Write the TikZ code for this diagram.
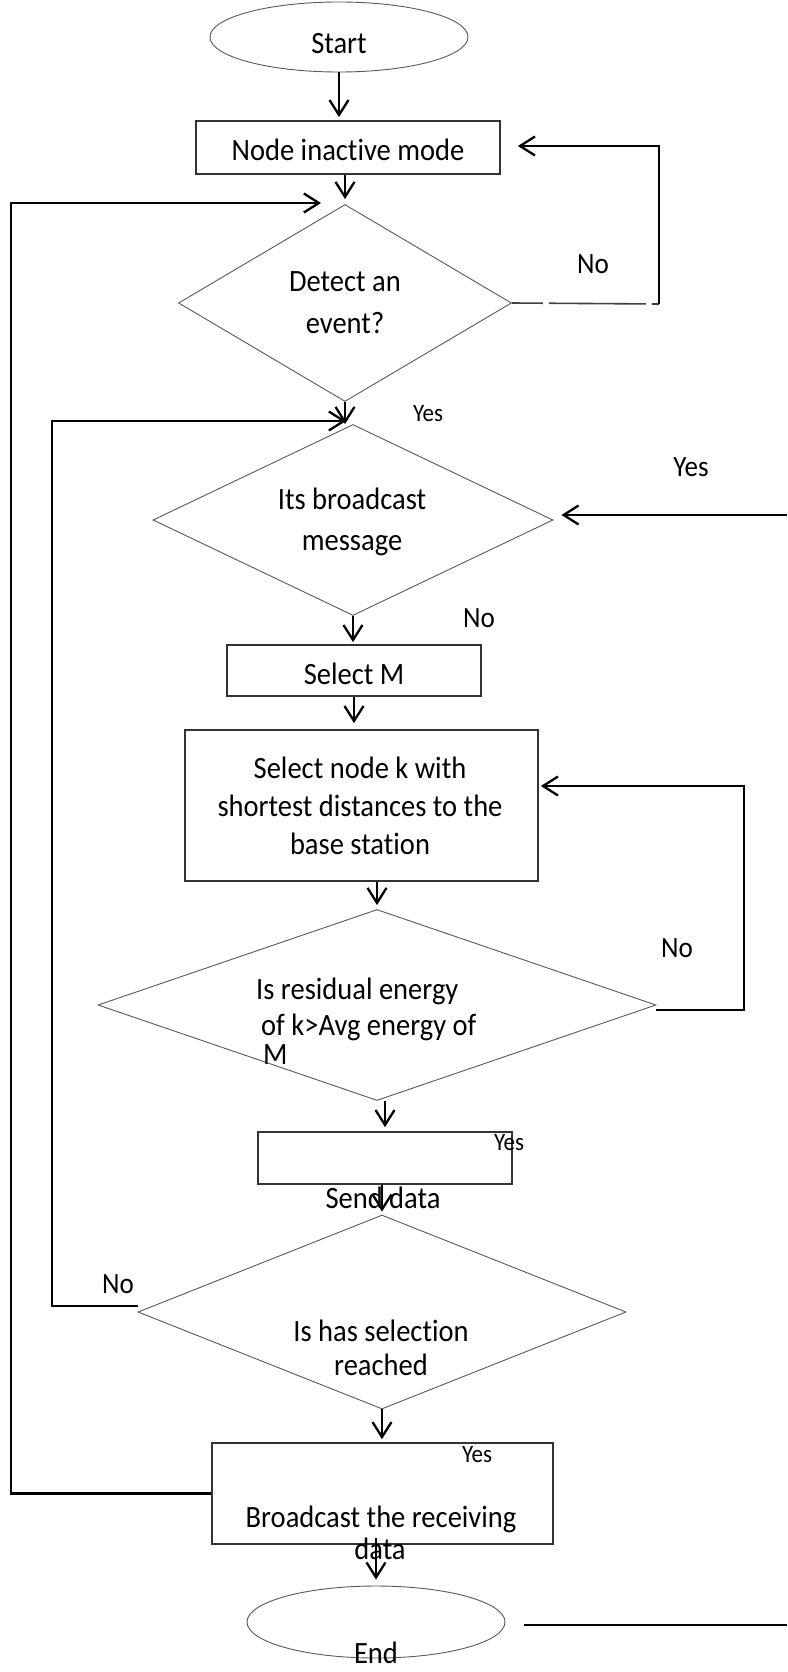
\documentclass[tikz,border=0pt]{standalone}
\usepackage{fontspec}
\setmainfont{Carlito}[FakeStretch=0.92, Ligatures=NoCommon]
\usetikzlibrary{shapes.geometric,arrows.meta}
\begin{document}
\begin{tikzpicture}[x=1pt,y=-1pt,
  shapeline/.style={draw=black!65, line width=0.9pt},
  boxline/.style={draw=black!80, line width=1.7pt},
  term/.style={ellipse, shapeline, inner sep=0pt},
  dec/.style={diamond, shapeline, inner sep=0pt},
  proc/.style={rectangle, boxline, inner sep=0pt},
  txt/.style={font=\fontsize{31}{36}\selectfont, inner sep=0pt, text height=25pt, text depth=3pt},
  lbl/.style={font=\fontsize{29.4}{34}\selectfont, inner sep=0pt, text height=22pt, text depth=2pt},
  slbl/.style={font=\fontsize{25}{30}\selectfont, inner sep=0pt, text height=19pt, text depth=2pt},
  conn/.style={draw=black, line width=2.3pt},
  thinconn/.style={draw=black!75, line width=1.6pt},
  arr/.style={conn, -{Straight Barb[length=15pt,width=19pt]}},
]
\fill[white] (0,0) rectangle (787,1672);
\useasboundingbox (0,0) rectangle (787,1672);

% shapes
\node[term, minimum width=258pt, minimum height=70pt] (start) at (339,37) {};
\node[proc, minimum width=304pt, minimum height=53pt] (inact) at (348,147.5) {};
\node[dec, minimum width=333pt, minimum height=197pt] (d1) at (345,303) {};
\node[dec, minimum width=400pt, minimum height=191pt] (d2) at (353,520) {};
\node[proc, minimum width=254pt, minimum height=51pt] (selm) at (354,670.5) {};
\node[proc, minimum width=353pt, minimum height=151pt] (selk) at (361.5,805.5) {};
\node[dec, minimum width=558pt, minimum height=191pt] (d3) at (377,1005) {};
\node[proc, minimum width=254pt, minimum height=52pt] (send) at (385,1158) {};
\node[dec, minimum width=488pt, minimum height=194pt] (d4) at (382,1312) {};
\node[proc, minimum width=341pt, minimum height=101pt] (bcast) at (382.5,1493.5) {};
\node[term, minimum width=258pt, minimum height=72pt] (endn) at (376,1622) {};

% texts
\node[txt] (t-start) at (339,43) {Start};
\node[txt] (t-inact) at (348,150) {Node inactive mode};
\node[txt] (t-d1a) at (345,280) {Detect an};
\node[txt] (t-d1b) at (345,322) {event?};
\node[txt] (t-d2a) at (352,498) {Its broadcast};
\node[txt] (t-d2b) at (352,539) {message};
\node[txt] (t-selm) at (354,673) {Select M};
\node[txt] (t-selka) at (360,767) {Select node k with};
\node[txt] (t-selkb) at (360,805) {shortest distances to the};
\node[txt] (t-selkc) at (360,843) {base station};
\node[txt, anchor=west] (t-d3a) at (256,988) {Is residual energy};
\node[txt, anchor=west] (t-d3b) at (261,1024) {of k>Avg energy of};
\node[txt, anchor=west] (t-d3c) at (263,1053) {M};
\node[txt] (t-send) at (383,1197) {Send data};
\node[txt] (t-d4a) at (381,1330) {Is has selection};
\node[txt] (t-d4b) at (381,1364) {reached};
\node[txt] (t-bca) at (381,1516) {Broadcast the receiving};
\node[txt] (t-bcb) at (380,1548) {data};
\node[txt] (t-end) at (376,1652) {End};

% labels
\node[lbl] (l-no1) at (593,263) {No};
\node[slbl] (l-yes1) at (428,413) {Yes};
\node[lbl] (l-yes2) at (691,466) {Yes};
\node[lbl] (l-no2) at (479,617) {No};
\node[lbl] (l-no3) at (677,947) {No};
\node[slbl] (l-yes3) at (509,1142) {Yes};
\node[lbl] (l-no4) at (118,1283) {No};
\node[slbl] (l-yes4) at (477,1454) {Yes};

% coordinates for loops
\coordinate (loopA) at (11,203);
\coordinate (inA) at (321,203);
\coordinate (loopB) at (52,421);
\coordinate (inB) at (346,421);
\coordinate (noA0) at (659,304);
\coordinate (noA1) at (659,146);
\coordinate (noC) at (744,786);
\coordinate (rYes) at (787,515);
\coordinate (rEnd) at (787,1625);
\coordinate (endL) at (524,1625);

% main flow
\draw[arr, shorten >=3pt] (start.south) -- (start.south |- inact.north);
\draw[arr, shorten >=5pt] (inact.south -| d1.north) -- (d1.north);
\draw[arr] (d1.south) -- (d1.south |- d2.north);
\draw[arr, shorten >=2pt] (d2.south) -- (d2.south |- selm.north);
\draw[arr, shorten >=6pt] (selm.south) -- (selm.south |- selk.north);
\draw[arr, shorten >=4pt] (selk.south -| d3.north) -- (d3.north);
\draw[arr, shorten >=4pt] (d3.south -| send.north) -- (send.north);
\draw[arr, shorten >=3pt] (send.south -| d4.north) -- (d4.north);
\draw[arr, shorten >=3pt] (d4.south) -- (d4.south |- bcast.north);
\draw[arr, shorten >=6pt] ([yshift=7pt]bcast.south -| endn.north) -- (endn.north);

% loops
\draw[arr] (bcast.west) -| (loopA) -- (inA);
\draw[arr] (d4.west |- 0,1306) -| (loopB) -- (inB);
\draw[thinconn, dash pattern=on 31pt off 6pt on 97pt off 6pt on 300pt] (d1.east) -- (noA0);
\draw[arr] (noA0) -- (noA1) -- (inact.east |- noA1) [shorten >=17pt];
\draw[arr, shorten >=2pt] (d3.east |- 0,1010) -| (noC) -- (selk.east |- noC);
\draw[arr, shorten >=8pt] (rYes) -- (rYes -| d2.east);
\draw[conn] (endL) -- (rEnd);
\end{tikzpicture}
\end{document}
